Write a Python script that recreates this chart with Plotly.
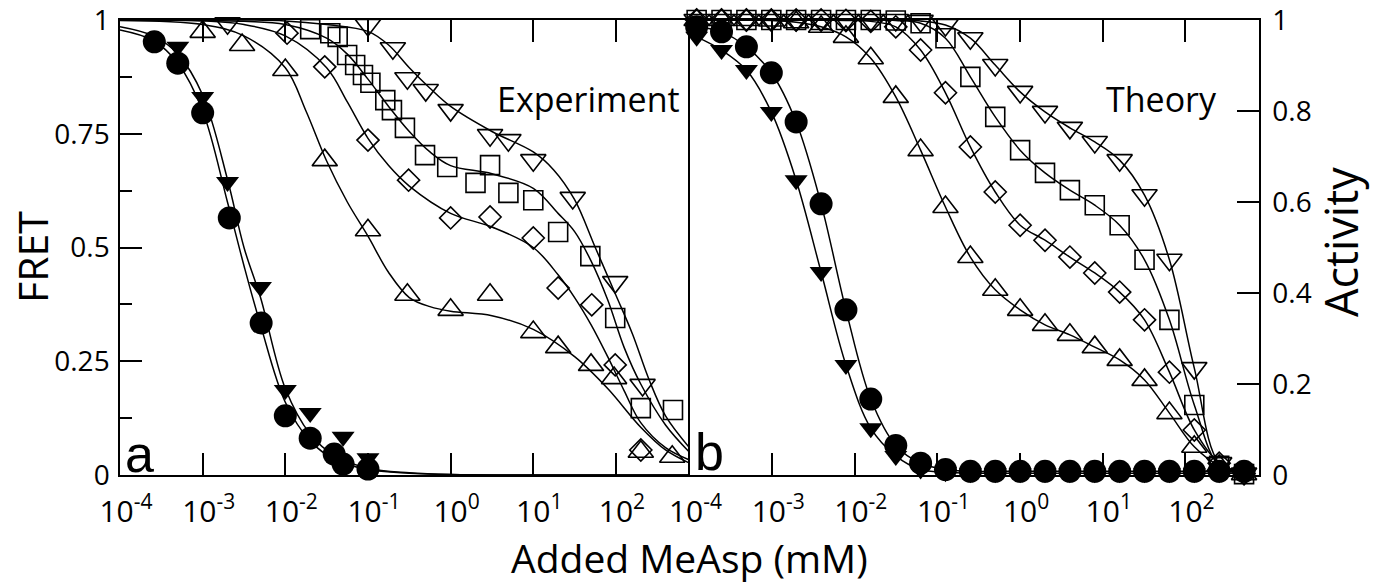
import plotly.graph_objects as go

# ---------------- Panel a: Experiment (FRET) ----------------
exp_circle_x = [2.6e-4, 5.0e-4, 1.0e-3, 2.1e-3, 5.1e-3, 1.0e-2, 2.0e-2, 3.9e-2, 5.0e-2, 1.0e-1]
exp_circle_y = [0.952, 0.905, 0.796, 0.565, 0.334, 0.130, 0.081, 0.046, 0.024, 0.013]

exp_tridn_x = [5.0e-4, 1.0e-3, 2.0e-3, 5.0e-3, 1.0e-2, 2.0e-2, 5.0e-2, 1.0e-1]
exp_tridn_y = [0.941, 0.831, 0.644, 0.413, 0.187, 0.136, 0.084, 0.037]

exp_triup_x = [1e-3, 3e-3, 1e-2, 3e-2, 0.1, 0.3, 1, 3, 10, 20, 50, 95, 200, 480]
exp_triup_y = [0.974, 0.945, 0.890, 0.692, 0.538, 0.396, 0.363, 0.396, 0.314, 0.281, 0.242, 0.213, 0.051, 0.040]

exp_diam_x = [0.0105, 0.03, 0.1, 0.31, 1, 3, 10, 20, 51, 98, 200]
exp_diam_y = [0.971, 0.897, 0.736, 0.648, 0.565, 0.567, 0.521, 0.411, 0.374, 0.242, 0.055]

exp_sq_x = [0.02, 0.035, 0.043, 0.056, 0.07, 0.087, 0.107, 0.162, 0.195, 0.28, 0.49, 0.91,
            2.0, 3.0, 5.0, 10, 20, 49, 98, 200, 490]
exp_sq_y = [0.980, 0.971, 0.963, 0.923, 0.901, 0.879, 0.862, 0.824, 0.802, 0.763, 0.703, 0.677,
            0.642, 0.681, 0.620, 0.604, 0.534, 0.481, 0.345, 0.147, 0.143]

exp_tridnopen_x = [2.0e-3, 0.1, 0.2, 0.3, 0.5, 1, 3, 5, 10, 30, 98, 210]
exp_tridnopen_y = [0.993, 0.989, 0.938, 0.872, 0.846, 0.802, 0.747, 0.736, 0.692, 0.609, 0.424, 0.198]

# fitted curves (log10 of concentration, value)
fit_circle_lx = [-4, -3.6, -3.3, -3.0, -2.7, -2.5, -2.3, -2.0, -1.7, -1.4, -1.0, -0.5, 0, 1, 2.89]
fit_circle_y = [0.978, 0.955, 0.905, 0.80, 0.60, 0.46, 0.33, 0.16, 0.075, 0.034, 0.012, 0.004, 0.001, 0, 0]
fit_tridn_lx = [-4, -3.6, -3.3, -3.0, -2.7, -2.5, -2.3, -2.0, -1.7, -1.4, -1.0, -0.5, 0, 1, 2.89]
fit_tridn_y = [0.985, 0.965, 0.925, 0.835, 0.65, 0.50, 0.39, 0.19, 0.09, 0.042, 0.015, 0.005, 0.001, 0, 0]
fit_triup_lx = [-4, -3, -2.5, -2, -1.75, -1.5, -1.25, -1.0, -0.75, -0.5, -0.25, 0, 0.5, 1.0, 1.5, 1.9, 2.3, 2.6, 2.89]
fit_triup_y = [0.999, 0.99, 0.965, 0.895, 0.80, 0.69, 0.60, 0.525, 0.445, 0.39, 0.37, 0.36, 0.35, 0.32, 0.26, 0.19, 0.105, 0.055, 0.026]
fit_diam_lx = [-4, -3, -2.5, -2, -1.5, -1.25, -1.0, -0.75, -0.5, 0, 0.5, 1.0, 1.3, 1.5, 1.7, 1.9, 2.1, 2.3, 2.6, 2.89]
fit_diam_y = [1.0, 0.998, 0.99, 0.965, 0.895, 0.82, 0.74, 0.68, 0.635, 0.575, 0.545, 0.50, 0.44, 0.39, 0.33, 0.26, 0.185, 0.115, 0.06, 0.033]
fit_sq_lx = [-4, -2.5, -2, -1.5, -1.25, -1.0, -0.75, -0.5, -0.25, 0, 0.5, 1.0, 1.3, 1.5, 1.7, 1.9, 2.1, 2.3, 2.6, 2.89]
fit_sq_y = [1.0, 0.997, 0.99, 0.96, 0.925, 0.87, 0.81, 0.755, 0.71, 0.68, 0.662, 0.63, 0.575, 0.535, 0.47, 0.385, 0.28, 0.20, 0.11, 0.05]
fit_tridnopen_lx = [-4, -2, -1.5, -1.0, -0.75, -0.5, -0.25, 0, 0.5, 1.0, 1.25, 1.5, 1.75, 2.0, 2.2, 2.4, 2.6, 2.89]
fit_tridnopen_y = [1.0, 0.998, 0.99, 0.975, 0.945, 0.895, 0.85, 0.81, 0.755, 0.71, 0.67, 0.605, 0.50, 0.395, 0.31, 0.21, 0.13, 0.06]

# ---------------- Panel b: Theory (Activity) ----------------
theory_x = [1.22e-4, 2.44e-4, 4.88e-4, 9.77e-4, 1.95e-3, 3.91e-3, 7.81e-3, 0.0156, 0.0313, 0.0625,
            0.125, 0.25, 0.5, 1, 2, 4, 8, 16, 32, 64, 128, 256, 512]
th_circle = [0.985, 0.974, 0.941, 0.884, 0.776, 0.596, 0.363, 0.167, 0.065, 0.026, 0.012, 0.008,
             0.008, 0.008, 0.008, 0.008, 0.008, 0.008, 0.008, 0.008, 0.008, 0.008, 0.008]
th_tridn = [0.963, 0.934, 0.890, 0.798, 0.648, 0.446, 0.242, 0.103, 0.042, 0.012, 0.006, 0.004,
            0.004, 0.004, 0.004, 0.004, 0.004, 0.004, 0.004, 0.004, 0.004, 0.004, 0.004]
th_triup = [1.0, 1.0, 1.0, 0.999, 0.995, 0.985, 0.963, 0.916, 0.831, 0.714, 0.589, 0.479,
            0.407, 0.363, 0.330, 0.308, 0.281, 0.253, 0.209, 0.136, 0.062, 0.02, 0.002]
th_diam = [1.0, 1.0, 1.0, 1.0, 1.0, 1.0, 0.999, 0.997, 0.985, 0.934, 0.840, 0.721,
           0.622, 0.549, 0.516, 0.479, 0.444, 0.402, 0.341, 0.226, 0.099, 0.026, 0.003]
th_sq = [1.0, 1.0, 1.0, 1.0, 1.0, 1.0, 1.0, 1.0, 0.999, 0.993, 0.960, 0.875,
         0.787, 0.714, 0.664, 0.626, 0.593, 0.549, 0.473, 0.341, 0.154, 0.02, 0.002]
th_tridnopen = [1.0, 1.0, 1.0, 1.0, 1.0, 1.0, 1.0, 1.0, 1.0, 0.998, 0.989, 0.960,
                0.901, 0.842, 0.798, 0.763, 0.732, 0.692, 0.615, 0.473, 0.235, 0.026, 0.003]

x_tickvals = [1e-4, 1e-3, 1e-2, 1e-1, 1e0, 1e1, 1e2]
x_ticktext = ['10<sup>-4</sup>', '10<sup>-3</sup>', '10<sup>-2</sup>', '10<sup>-1</sup>',
              '10<sup>0</sup>', '10<sup>1</sup>', '10<sup>2</sup>']
fret_tickvals = [0, 0.25, 0.5, 0.75, 1]
fret_ticktext = ['0', '0.25', '0.5', '0.75', '1']
fret_minor = [0.125, 0.375, 0.625, 0.875]
act_tickvals = [0, 0.2, 0.4, 0.6, 0.8, 1]
act_ticktext = ['0', '0.2', '0.4', '0.6', '0.8', '1']

FONT = 'Open Sans'
fig = go.Figure()

LINE = dict(color='black', width=1.5)


def curve(lx, y, xa, ya):
    fig.add_trace(go.Scatter(x=[10 ** v for v in lx], y=y, mode='lines', line=dict(shape='spline', **LINE),
                             xaxis=xa, yaxis=ya, showlegend=False, hoverinfo='skip'))


def pts(x, y, sym, size, xa, ya, lines=False):
    filled = not sym.endswith('open')
    fig.add_trace(go.Scatter(
        x=x, y=y, mode='lines+markers' if lines else 'markers',
        line=dict(shape='spline', **LINE),
        marker=dict(symbol=sym, size=size, color='black',
                    line=dict(width=0 if filled else 1.6, color='black')),
        xaxis=xa, yaxis=ya, showlegend=False, cliponaxis=False))


# panel a curves
curve(fit_circle_lx, fit_circle_y, 'x', 'y')
curve(fit_tridn_lx, fit_tridn_y, 'x', 'y')
curve(fit_triup_lx, fit_triup_y, 'x', 'y')
curve(fit_diam_lx, fit_diam_y, 'x', 'y')
curve(fit_sq_lx, fit_sq_y, 'x', 'y')
curve(fit_tridnopen_lx, fit_tridnopen_y, 'x', 'y')
# panel a markers
pts(exp_triup_x, exp_triup_y, 'triangle-up-open', 22, 'x', 'y')
pts(exp_diam_x, exp_diam_y, 'diamond-open', 17, 'x', 'y')
pts(exp_sq_x, exp_sq_y, 'square-open', 19, 'x', 'y')
pts(exp_tridnopen_x, exp_tridnopen_y, 'triangle-down-open', 22, 'x', 'y')
pts(exp_tridn_x, exp_tridn_y, 'triangle-down', 20, 'x', 'y')
pts(exp_circle_x, exp_circle_y, 'circle', 23, 'x', 'y')

# panel b
pts(theory_x, th_triup, 'triangle-up-open', 22, 'x2', 'y2', lines=True)
pts(theory_x, th_diam, 'diamond-open', 17, 'x2', 'y2', lines=True)
pts(theory_x, th_sq, 'square-open', 19, 'x2', 'y2', lines=True)
pts(theory_x, th_tridnopen, 'triangle-down-open', 22, 'x2', 'y2', lines=True)
pts(theory_x, th_tridn, 'triangle-down', 20, 'x2', 'y2', lines=True)
pts(theory_x, th_circle, 'circle', 23, 'x2', 'y2', lines=True)

xcommon = dict(type='log', range=[-4, 2.89], tickvals=x_tickvals, ticktext=x_ticktext,
               ticks='inside', ticklen=22, tickwidth=1.5, tickcolor='black',
               showline=True, linewidth=1.5, linecolor='black', mirror='ticks',
               showgrid=False, zeroline=False, ticklabelshift=6, ticklabelstandoff=9,
               ticklabeloverflow='allow', automargin=False,
               tickfont=dict(family=FONT, size=30, color='black'))

fig.update_layout(
    width=1373, height=583,
    margin=dict(l=120, r=114, t=20, b=108, pad=0, autoexpand=False),
    paper_bgcolor='white', plot_bgcolor='white',
    font=dict(family=FONT, color='black'),
    xaxis=dict(domain=[0, 0.5], anchor='y', **xcommon),
    xaxis2=dict(domain=[0.5, 1], anchor='y2', **xcommon),
    yaxis=dict(domain=[0, 1], anchor='x', range=[0, 1], tickvals=fret_tickvals, ticktext=fret_ticktext,
               ticks='inside', ticklen=22, tickwidth=1.5, tickcolor='black',
               minor=dict(tickvals=fret_minor, ticks='inside', ticklen=12, tickwidth=1.5, tickcolor='black'),
               showline=True, linewidth=1.5, linecolor='black', mirror=False,
               showgrid=False, zeroline=False, ticklabelstandoff=3, ticklabeloverflow='allow',
               automargin=False,
               tickfont=dict(family=FONT, size=28, color='black')),
    yaxis2=dict(domain=[0, 1], anchor='x2', side='right', range=[0, 1], tickvals=act_tickvals,
                ticktext=act_ticktext, ticks='inside', ticklen=22, tickwidth=1.5, tickcolor='black',
                showline=True, linewidth=1.5, linecolor='black', mirror=True,
                showgrid=False, zeroline=False, ticklabelstandoff=6, ticklabeloverflow='allow',
                automargin=False,
                tickfont=dict(family=FONT, size=28, color='black')),
    annotations=[
        dict(text='FRET', xref='paper', yref='paper', x=-0.0773, y=0.479, textangle=-90,
             xanchor='center', yanchor='middle', showarrow=False,
             font=dict(family=FONT, size=41, color='black')),
        dict(text='Activity', xref='paper', yref='paper', x=1.0711, y=0.512, textangle=-90,
             xanchor='center', yanchor='middle', showarrow=False,
             font=dict(family=FONT, size=45, color='black')),
        dict(text='Added MeAsp (mM)', xref='paper', yref='paper', x=0.5, y=-0.182,
             xanchor='center', yanchor='middle', showarrow=False,
             font=dict(family=FONT, size=39, color='black')),
        dict(text='Experiment', xref='x domain', yref='y domain', x=0.987, y=0.826,
             xanchor='right', yanchor='middle', showarrow=False,
             font=dict(family=FONT, size=34, color='black')),
        dict(text='Theory', xref='x2 domain', yref='y2 domain', x=0.929, y=0.826,
             xanchor='right', yanchor='middle', showarrow=False,
             font=dict(family=FONT, size=34, color='black')),
        dict(text='a', xref='x domain', yref='y domain', x=0.005, y=0.046,
             xanchor='left', yanchor='middle', showarrow=False,
             font=dict(family='Liberation Sans', size=52, color='black')),
        dict(text='b', xref='x2 domain', yref='y2 domain', x=0.007, y=0.051,
             xanchor='left', yanchor='middle', showarrow=False,
             font=dict(family='Liberation Sans', size=52, color='black')),
    ],
)

# remove the browser's default 8 px body margin so the figure fills the window exactly
fig.write_html('out.html', config={'displayModeBar': False},
               post_script="document.body.style.margin='0';")
